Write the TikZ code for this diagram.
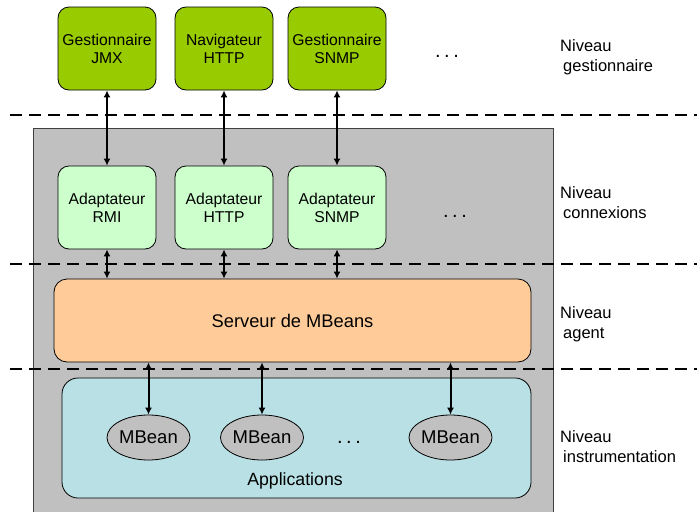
\documentclass[tikz,border=0pt]{standalone}
\usepackage{fontspec}
\setmainfont{Liberation Sans}
\usetikzlibrary{arrows.meta}
\usetikzlibrary{shapes.geometric}
\definecolor{mgrgreen}{RGB}{153,204,0}
\definecolor{adaptgreen}{RGB}{204,255,204}
\definecolor{srvorange}{RGB}{255,204,153}
\definecolor{appblue}{RGB}{185,224,228}
\definecolor{agentgray}{RGB}{192,192,192}
\newcommand\troispoints{.\hspace{3.5pt}.\hspace{3.5pt}.}

\begin{document}
\begin{tikzpicture}[x=1pt, y=-1pt,
	box/.style={draw=black, line width=0.8pt, rounded corners=11pt, align=center, inner sep=0pt, font=\fontsize{15.7}{18}\selectfont},
	mgr/.style={box, fill=mgrgreen, minimum width=98pt, minimum height=83pt},
	adapt/.style={box, fill=adaptgreen, minimum width=98pt, minimum height=83pt},
	mbean/.style={ellipse, draw=black, line width=0.8pt, fill=agentgray, minimum width=83pt, minimum height=45pt, inner sep=0pt, font=\fontsize{18.5}{22}\selectfont},
	lien/.style={line width=2pt, {Latex[length=7pt,width=7pt]}-{Latex[length=7pt,width=7pt]}},
	niveau/.style={anchor=west, align=left, inner sep=0pt, font=\fontsize{16.5}{20}\selectfont},
	sep/.style={line width=1.5pt, dash pattern=on 12pt off 7pt},
	points/.style={anchor=base, inner sep=0pt, font=\fontsize{20}{22}\selectfont}
]
	\clip (0,0) rectangle (697,512);
	\draw[fill=agentgray, draw=black!75, line width=0.8pt] (33,128) rectangle (553,530);
	\draw[sep] (10,115) -- (697,115);
	\draw[sep] (10,264) -- (697,264);
	\draw[sep] (10,369) -- (697,369);

	\node[mgr] (gjmx) at (107,48.5) {Gestionnaire\\JMX};
	\node[mgr] (nhttp) at (224,48.5) {Navigateur\\HTTP};
	\node[mgr] (gsnmp) at (337,48.5) {Gestionnaire\\SNMP};
	\node[points] (pmgr) at (447,57) {\troispoints};

	\node[adapt] (armi) at (107,207.5) {Adaptateur\\RMI};
	\node[adapt] (ahttp) at (224,207.5) {Adaptateur\\HTTP};
	\node[adapt] (asnmp) at (337,207.5) {Adaptateur\\SNMP};
	\node[points] (padapt) at (455,217) {\troispoints};

	\node[box, fill=srvorange, minimum width=477pt, minimum height=83pt, rounded corners=13pt, font=\fontsize{18.3}{22}\selectfont] (srv) at (292.5,320.5) {Serveur de MBeans};

	\node[box, fill=appblue, minimum width=469pt, minimum height=120pt, rounded corners=16pt] (apps) at (296.5,438) {};
	\node[font=\fontsize{17.7}{21}\selectfont, inner sep=0pt] (appl) at (295,481) {Applications};
	\node[mbean] (mb1) at (148.5,437.5) {MBean};
	\node[mbean] (mb2) at (262,437.5) {MBean};
	\node[mbean] (mb3) at (450.5,437.5) {MBean};
	\node[points] (pbean) at (349,443) {\troispoints};

	\node[niveau] (ngest) at (560,57) {Niveau\\\hspace*{3pt}gestionnaire};
	\node[niveau] (nconn) at (560,202.5) {Niveau\\\hspace*{3pt}connexions};
	\node[niveau] (nagent) at (560,324) {Niveau\\\hspace*{3pt}agent};
	\node[niveau] (ninstr) at (560,447) {Niveau\\\hspace*{3pt}instrumentation};

	\draw[lien] (gjmx) -- (armi);
	\draw[lien] (nhttp) -- (ahttp);
	\draw[lien] (gsnmp) -- (asnmp);
	\draw[lien] (armi.south) -- (armi.south |- srv.north);
	\draw[lien] (ahttp.south) -- (ahttp.south |- srv.north);
	\draw[lien] (asnmp.south) -- (asnmp.south |- srv.north);
	\draw[lien] (mb1.north |- srv.south) -- (mb1.north);
	\draw[lien] (mb2.north |- srv.south) -- (mb2.north);
	\draw[lien] (mb3.north |- srv.south) -- (mb3.north);
\end{tikzpicture}
\end{document}
